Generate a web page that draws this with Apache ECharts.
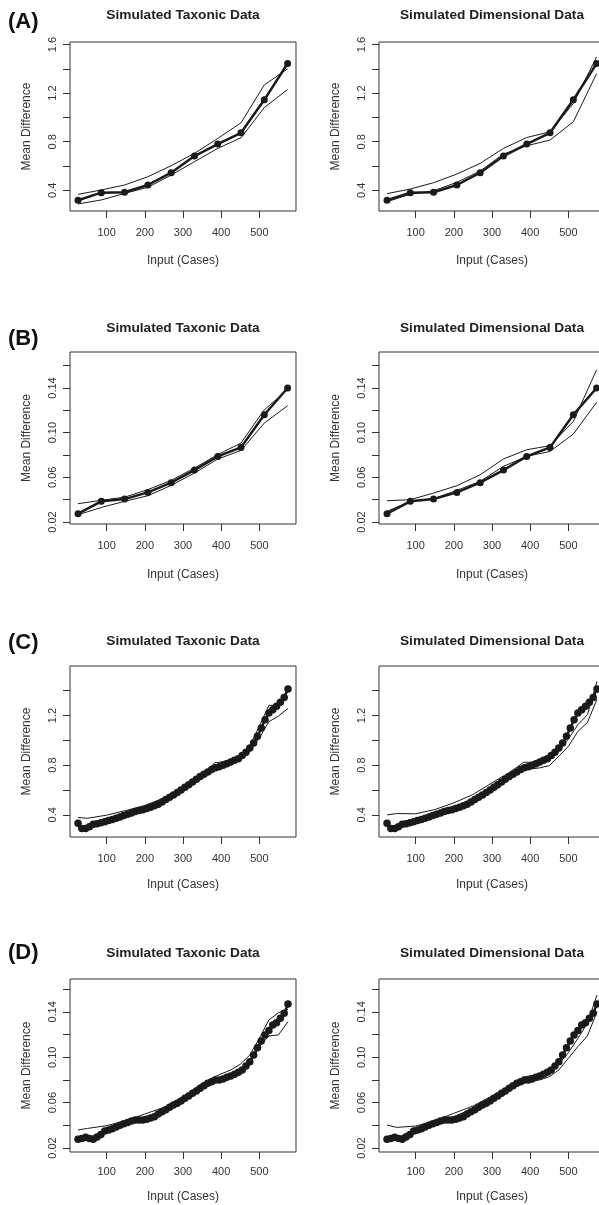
<!DOCTYPE html>
<html><head><meta charset="utf-8">
<script src="https://cdn.jsdelivr.net/npm/echarts@6.0.0/dist/echarts.min.js"></script>
<style>html,body{margin:0;padding:0;background:#fff}#c{width:599px;height:1205px}</style>
</head><body><div id="c"></div>
<script>
// ---------- data ----------
const xCoarse = [25, 86, 147, 208, 269, 330, 391, 452, 513, 574];
const xFine = [25, 35, 45, 55, 65, 75, 85, 95, 105, 115, 125, 135, 145, 155, 165, 175, 185, 195, 205, 215,
  225, 235, 245, 255, 265, 275, 285, 295, 305, 315, 325, 335, 345, 355, 365, 375, 385, 395, 405, 415,
  425, 435, 445, 455, 465, 475, 485, 495, 505, 515, 525, 535, 545, 555, 565, 575];
const xBand = [25, 50, 100, 150, 200, 250, 300, 350, 383, 400, 425, 450, 475, 500, 525, 550, 575];
const xTicks = [100, 200, 300, 400, 500];
const xTickLabels = ['100', '200', '300', '400', '500'];

// (A) coarse, large scale
const meanA = [0.318, 0.381, 0.384, 0.444, 0.545, 0.682, 0.781, 0.874, 1.145, 1.444];
const taxUpperA = [0.367, 0.403, 0.444, 0.512, 0.603, 0.704, 0.827, 0.956, 1.268, 1.400];
const taxLowerA = [0.288, 0.321, 0.375, 0.425, 0.526, 0.636, 0.745, 0.833, 1.082, 1.230];
const dimUpperA = [0.373, 0.411, 0.463, 0.534, 0.622, 0.745, 0.835, 0.882, 1.115, 1.498];
const dimLowerA = [0.307, 0.367, 0.397, 0.466, 0.559, 0.699, 0.767, 0.814, 0.964, 1.361];

// (B) coarse, small scale
const meanB = [0.0274, 0.0385, 0.0405, 0.0465, 0.0552, 0.0665, 0.0787, 0.0868, 0.1160, 0.1400];
const taxUpperB = [0.0364, 0.0394, 0.0422, 0.0490, 0.0573, 0.0683, 0.0803, 0.0907, 0.1205, 0.1384];
const taxLowerB = [0.0265, 0.0330, 0.0385, 0.0435, 0.0528, 0.0638, 0.0764, 0.0841, 0.1086, 0.1241];
const dimUpperB = [0.0390, 0.0400, 0.0459, 0.0525, 0.0623, 0.0764, 0.0847, 0.0883, 0.1100, 0.1563];
const dimLowerB = [0.0295, 0.0385, 0.0409, 0.0483, 0.0564, 0.0698, 0.0788, 0.0832, 0.0987, 0.1271];

// (C) fine, large scale
const meanC = [0.332, 0.289, 0.289, 0.303, 0.324, 0.327, 0.335, 0.343, 0.354, 0.362,
  0.373, 0.383, 0.394, 0.405, 0.415, 0.426, 0.434, 0.440, 0.450, 0.461,
  0.472, 0.485, 0.504, 0.523, 0.541, 0.560, 0.579, 0.600, 0.622, 0.643,
  0.665, 0.686, 0.708, 0.727, 0.745, 0.764, 0.780, 0.788, 0.799, 0.812,
  0.826, 0.839, 0.852, 0.877, 0.903, 0.938, 0.979, 1.032, 1.099, 1.166,
  1.220, 1.247, 1.274, 1.306, 1.346, 1.413];
const taxUpperC = [0.378, 0.372, 0.397, 0.434, 0.475, 0.536, 0.619, 0.724, 0.818, 0.826, 0.844, 0.882, 0.957, 1.113, 1.282, 1.282, 1.359];
const taxLowerC = [0.303, 0.287, 0.340, 0.389, 0.440, 0.501, 0.595, 0.700, 0.764, 0.780, 0.804, 0.839, 0.912, 1.019, 1.150, 1.195, 1.257];
const dimUpperC = [0.399, 0.410, 0.408, 0.442, 0.496, 0.563, 0.657, 0.750, 0.823, 0.823, 0.823, 0.839, 0.911, 1.011, 1.126, 1.207, 1.474];
const dimLowerC = [0.308, 0.290, 0.335, 0.383, 0.442, 0.523, 0.611, 0.710, 0.769, 0.769, 0.778, 0.796, 0.871, 0.952, 1.072, 1.144, 1.332];

// (D) fine, small scale
const meanD = [0.0277, 0.0285, 0.0294, 0.0285, 0.0277, 0.0297, 0.0320, 0.0350, 0.0360, 0.0370,
  0.0385, 0.0400, 0.0415, 0.0426, 0.0438, 0.0447, 0.0447, 0.0447, 0.0453, 0.0465,
  0.0476, 0.0500, 0.0520, 0.0538, 0.0559, 0.0579, 0.0594, 0.0614, 0.0638, 0.0659,
  0.0682, 0.0702, 0.0726, 0.0750, 0.0770, 0.0785, 0.0800, 0.0800, 0.0808, 0.0823,
  0.0835, 0.0850, 0.0867, 0.0888, 0.0923, 0.0961, 0.1020, 0.1084, 0.1143, 0.1196,
  0.1235, 0.1284, 0.1305, 0.1343, 0.1387, 0.1470];
const taxUpperD = [0.0359, 0.0373, 0.0397, 0.0441, 0.0500, 0.0559, 0.0653, 0.0770, 0.0829, 0.0853, 0.0888, 0.0938, 0.1020, 0.1167, 0.1329, 0.1393, 0.1422];
const taxLowerD = [0.0271, 0.0285, 0.0359, 0.0418, 0.0462, 0.0535, 0.0629, 0.0741, 0.0794, 0.0805, 0.0829, 0.0864, 0.0941, 0.1094, 0.1188, 0.1197, 0.1314];
const dimUpperD = [0.0403, 0.0382, 0.0394, 0.0441, 0.0506, 0.0570, 0.0659, 0.0756, 0.0823, 0.0838, 0.0838, 0.0873, 0.0940, 0.1040, 0.1167, 0.1300, 0.1549];
const dimLowerD = [0.0290, 0.0285, 0.0373, 0.0426, 0.0476, 0.0550, 0.0647, 0.0750, 0.0800, 0.0794, 0.0800, 0.0829, 0.0888, 0.0991, 0.1094, 0.1188, 0.1402];

// axis ticks / labels
const yTicksLarge = [0.4, 0.6, 0.8, 1.0, 1.2, 1.4, 1.6];
const yLabelsLarge = [0.4, 0.8, 1.2, 1.6];
const yTicksSmall = [0.02, 0.04, 0.06, 0.08, 0.10, 0.12, 0.14, 0.16];
const yLabelsSmall = [0.02, 0.06, 0.10, 0.14];

// texts
const rowLetters = ['(A)', '(B)', '(C)', '(D)'];
const colTitles = ['Simulated Taxonic Data', 'Simulated Dimensional Data'];
const xName = 'Input (Cases)';
const yName = 'Mean Difference';

// ---------- layout ----------
const colLeft = [70, 379];
const gridW = 226;
const rowTop = [42, 352, 666, 979];
const rowH = [169, 172, 171, 173];
const yRange = [[0.23, 1.621], [0.0182, 0.1722], [0.221, 1.599], [0.0165, 0.169]];
const xNameGap = [44, 45, 42, 39];
const xLabelMargin = [16, 16, 16, 14];
const titleY = [15, 328, 641, 953];
const letterY = [21.5, 339, 643, 952.5];
const FONT = '"Liberation Sans", Arial, Helvetica, sans-serif';
const INK = '#1a1a1a';

const rows = [
  {xm: xCoarse, m: meanA, xb: xCoarse, bands: [[taxUpperA, taxLowerA], [dimUpperA, dimLowerA]], ticks: yTicksLarge, labs: yLabelsLarge, dec: 1, ss: 7},
  {xm: xCoarse, m: meanB, xb: xCoarse, bands: [[taxUpperB, taxLowerB], [dimUpperB, dimLowerB]], ticks: yTicksSmall, labs: yLabelsSmall, dec: 2, ss: 7},
  {xm: xFine, m: meanC, xb: xBand, bands: [[taxUpperC, taxLowerC], [dimUpperC, dimLowerC]], ticks: yTicksLarge.filter(v => v < 1.5), labs: yLabelsLarge.filter(v => v < 1.5), dec: 1, ss: 7.5},
  {xm: xFine, m: meanD, xb: xBand, bands: [[taxUpperD, taxLowerD], [dimUpperD, dimLowerD]], ticks: yTicksSmall, labs: yLabelsSmall, dec: 2, ss: 7.5}
];

const zip = (xs, ys) => xs.map((x, i) => [x, ys[i]]);

const grid = [], xAxis = [], yAxis = [], series = [], graphic = [];
rows.forEach((r, ri) => {
  [0, 1].forEach(ci => {
    const gi = grid.length;
    grid.push({left: colLeft[ci], top: rowTop[ri], width: gridW, height: rowH[ri],
      show: true, borderColor: '#333', borderWidth: 1, backgroundColor: 'transparent',
      containLabel: false, outerBoundsMode: 'none'});
    xAxis.push({type: 'value', gridIndex: gi, min: 4, max: 596,
      name: xName, nameLocation: 'middle', nameGap: xNameGap[ri],
      nameTextStyle: {fontFamily: FONT, fontSize: 12, color: '#333'},
      axisLine: {show: false, onZero: false}, splitLine: {show: false},
      axisTick: {show: true, inside: false, length: 7, customValues: xTicks, lineStyle: {color: '#333', width: 1}},
      axisLabel: {show: true, margin: xLabelMargin[ri], customValues: xTicks, fontFamily: FONT, fontSize: 11, color: '#333',
        hideOverlap: false, formatter: v => xTickLabels[xTicks.indexOf(Math.round(v))] || ''}
    });
    yAxis.push({type: 'value', gridIndex: gi, min: yRange[ri][0], max: yRange[ri][1],
      name: yName, nameLocation: 'middle', nameGap: 37, nameRotate: 90,
      nameTextStyle: {fontFamily: FONT, fontSize: 12, color: '#333'},
      axisLine: {show: false}, splitLine: {show: false},
      axisTick: {show: true, inside: false, length: 7, customValues: r.ticks, lineStyle: {color: '#333', width: 1}},
      axisLabel: {show: true, rotate: 90, margin: 12, customValues: r.labs, fontFamily: FONT, fontSize: 11, color: '#333',
        hideOverlap: false, formatter: v => Number(v).toFixed(r.dec)}
    });
    series.push({type: 'line', xAxisIndex: gi, yAxisIndex: gi, data: zip(r.xm, r.m),
      symbol: 'circle', symbolSize: r.ss, showSymbol: true,
      lineStyle: {color: INK, width: 2.5}, itemStyle: {color: INK, borderWidth: 0}, z: 3, silent: true});
    r.bands[ci].forEach(b => {
      series.push({type: 'line', xAxisIndex: gi, yAxisIndex: gi, data: zip(r.xb, b),
        symbol: 'none', lineStyle: {color: INK, width: 1}, z: 4, silent: true});
    });
    graphic.push({type: 'text', x: colLeft[ci] + gridW / 2, y: titleY[ri], silent: true,
      style: {text: colTitles[ci], fontFamily: FONT, fontSize: 13.7, fontWeight: 'bold', fill: '#222',
        textAlign: 'center', textVerticalAlign: 'middle', align: 'center', verticalAlign: 'middle'}});
  });
  graphic.push({type: 'text', x: 8, y: letterY[ri], silent: true,
    style: {text: rowLetters[ri], fontFamily: FONT, fontSize: 22, fontWeight: 'bold', fill: '#111',
      textAlign: 'left', textVerticalAlign: 'middle', align: 'left', verticalAlign: 'middle'}});
});

const chart = echarts.init(document.getElementById('c'), null, {renderer: 'canvas'});
chart.setOption({animation: false, backgroundColor: '#fff', grid, xAxis, yAxis, series, graphic});
</script></body></html>
